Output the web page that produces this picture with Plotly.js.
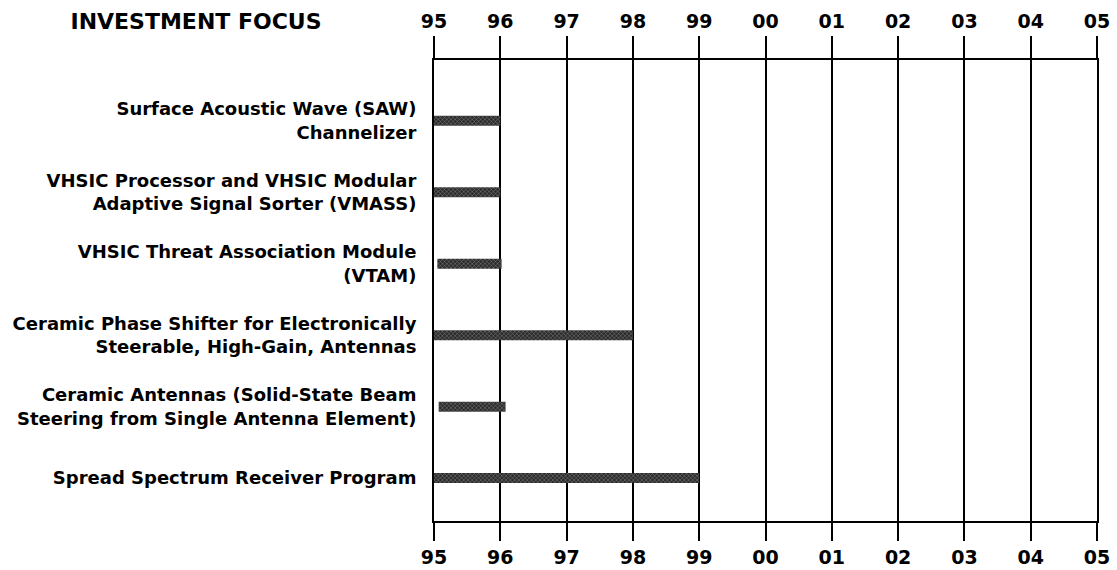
<!DOCTYPE html>
<html>
<head>
<meta charset="utf-8">
<script src="https://cdn.plot.ly/plotly-3.0.1.min.js"></script>
<style>
html,body{margin:0;padding:0;background:#fff;}
#chart{width:1117px;height:570px;}
</style>
</head>
<body>
<div id="chart"></div>
<script>
// Data
var programs = [
  "Surface Acoustic Wave (SAW)<br>Channelizer",
  "VHSIC Processor and VHSIC Modular<br>Adaptive Signal Sorter (VMASS)",
  "VHSIC Threat Association Module<br>(VTAM)",
  "Ceramic Phase Shifter for Electronically<br>Steerable, High-Gain, Antennas",
  "Ceramic Antennas (Solid-State Beam<br>Steering from Single Antenna Element)",
  "Spread Spectrum Receiver Program"
];
var startYears = [1995.0, 1995.0, 1995.05, 1995.0, 1995.07, 1995.0];
var endYears   = [1996.0, 1996.0, 1996.02, 1998.0, 1996.08, 1999.0];
var yearTicks  = [1995, 1996, 1997, 1998, 1999, 2000, 2001, 2002, 2003, 2004, 2005];
var yearLabels = ["95", "96", "97", "98", "99", "00", "01", "02", "03", "04", "05"];

var durations = endYears.map(function (e, i) { return e - startYears[i]; });

var font = {family: "DejaVu Sans", weight: "bold", color: "#000"};
function f(size) { return Object.assign({}, font, {size: size}); }

var bars = {
  type: "bar",
  orientation: "h",
  y: programs,
  x: durations,
  base: startYears,
  width: 0.14,
  marker: {
    color: "#2b2b2b",
    line: {width: 0},
    pattern: {shape: "x", fgcolor: "#9a9a9a", bgcolor: "#2b2b2b", size: 3, solidity: 0.25}
  },
  hoverinfo: "skip",
  showlegend: false
};
var topAxisTrace = {
  type: "scatter", mode: "markers", x: [], y: [], xaxis: "x2", yaxis: "y",
  showlegend: false, hoverinfo: "skip"
};

var axisCommon = {
  range: [1995, 2005],
  tickmode: "array",
  tickvals: yearTicks,
  ticktext: yearLabels,
  tickfont: f(19),
  ticks: "outside",
  tickcolor: "#000",
  tickwidth: 2,
  showline: true,
  linecolor: "#000",
  linewidth: 2,
  zeroline: false,
  fixedrange: true
};

var layout = {
  width: 1117,
  height: 570,
  margin: {l: 434, r: 20, t: 60, b: 49},
  paper_bgcolor: "#fff",
  plot_bgcolor: "#fff",
  title: {
    text: "INVESTMENT FOCUS",
    font: f(22),
    xref: "container", yref: "container",
    x: 196 / 1117, xanchor: "center",
    y: 1 - 21 / 570, yanchor: "middle"
  },
  xaxis: Object.assign({}, axisCommon, {
    side: "bottom",
    ticklen: 18,
    showgrid: true,
    gridcolor: "#000",
    gridwidth: 2
  }),
  xaxis2: Object.assign({}, axisCommon, {
    side: "top",
    overlaying: "x",
    ticklen: 22,
    showgrid: false
  }),
  yaxis: {
    type: "category",
    categoryorder: "array",
    categoryarray: programs,
    range: [5.6, -0.85],
    tickfont: f(18),
    ticks: "",
    ticklabelstandoff: 12,
    showgrid: false,
    showline: true,
    mirror: true,
    linecolor: "#000",
    linewidth: 2,
    zeroline: false,
    fixedrange: true
  },
  bargap: 0.8
};

Plotly.newPlot("chart", [bars, topAxisTrace], layout, {displayModeBar: false, staticPlot: true});
</script>
</body>
</html>
